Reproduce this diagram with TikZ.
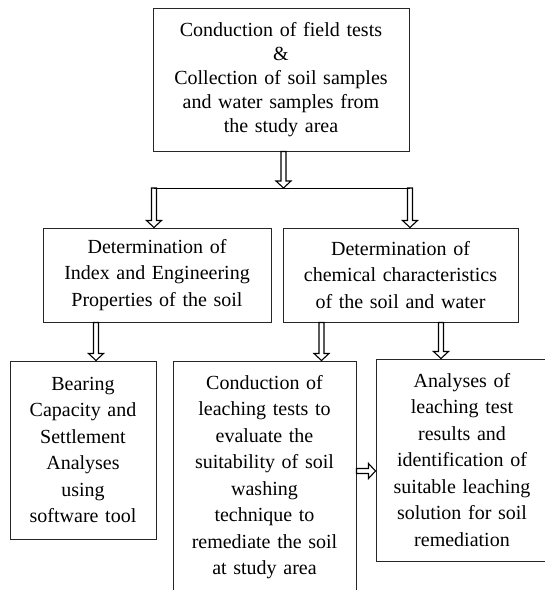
\documentclass[tikz,border=0pt]{standalone}
\usepackage{fontspec}
\setmainfont{Liberation Serif}
\usetikzlibrary{calc}
\tikzstyle{sbox}=[rectangle,draw=black!85,line width=1pt,align=center,inner sep=0pt,font=\fontsize{20}{26.5}\selectfont]
\tikzstyle{hollow}=[draw=black,line width=1.1pt,to path={
  let \p1=($(\tikztotarget)!7pt!(\tikztostart)$) in
  ($(\tikztostart)!2.5pt!90:(\tikztotarget)$) -- ($(\p1)!2.5pt!90:(\tikztotarget)$)
  -- ($(\p1)!7.5pt!90:(\tikztotarget)$) -- (\tikztotarget)
  -- ($(\p1)!7.5pt!-90:(\tikztotarget)$) -- ($(\p1)!2.5pt!-90:(\tikztotarget)$)
  -- ($(\tikztostart)!2.5pt!-90:(\tikztotarget)$) -- cycle}]

\begin{document}
\begin{tikzpicture}[x=1pt,y=-1pt]
\useasboundingbox (0,0) rectangle (545,590);
\node[sbox,text width=256pt,minimum height=143pt,font=\fontsize{20}{24}\selectfont] (field) at (281,79.5) {Conduction of field tests\\ \&\\ Collection of soil samples\\ and water samples from\\ the study area};
\node[sbox,text width=228pt,minimum height=94pt] (index) at (157,275) {Determination of\\ Index and Engineering\\ Properties of the soil};
\node[sbox,text width=235pt,minimum height=94pt] (chem) at (400.5,275) {Determination of\\ chemical characteristics\\ of the soil and water};
\node[sbox,text width=146pt,minimum height=178pt] (bearing) at (83,450) {Bearing\\ Capacity and\\ Settlement\\ Analyses\\ using\\ software tool};
\node[sbox,text width=183pt,minimum height=232pt] (leach) at (264.5,477) {Conduction of\\ leaching tests to\\ evaluate the\\ suitability of soil\\ washing\\ technique to\\ remediate the soil\\ at study area};
\node[sbox,text width=172pt,minimum height=202pt] (result) at (462,460) {Analyses of\\ leaching test\\ results and\\ identification of\\ suitable leaching\\ solution for soil\\ remediation};
% split points
\coordinate (J) at (283.5,188);
\coordinate (JL) at (154,188);
\coordinate (JR) at (410,188);
\coordinate (b1) at (96,0);
\coordinate (b2) at (321.5,0);
\coordinate (b3) at (441,0);
\coordinate (h1) at (0,471);
\draw[hollow] (field.south -| J) to (J);
\draw[line width=1pt] (JL) -- (JR);
\draw[hollow] (JL) to (index.north -| JL);
\draw[hollow] (JR) to (chem.north -| JR);
\draw[hollow] (index.south -| b1) to (bearing.north -| b1);
\draw[hollow] (chem.south -| b2) to (leach.north -| b2);
\draw[hollow] (chem.south -| b3) to (result.north -| b3);
\draw[hollow] (leach.east |- h1) to (result.west |- h1);
\end{tikzpicture}
\end{document}
